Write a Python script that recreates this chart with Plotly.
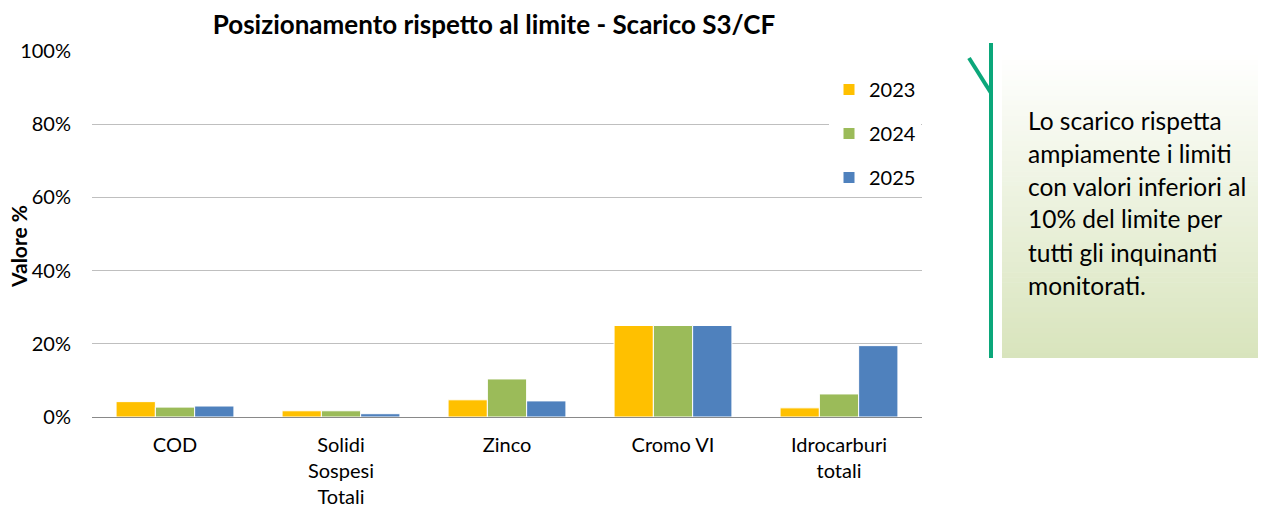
import plotly.graph_objects as go

categories = ["COD", "Solidi<br>Sospesi<br>Totali", "Zinco", "Cromo VI", "Idrocarburi<br>totali"]
years = ["2023", "2024", "2025"]
v2023 = [0.042, 0.017, 0.047, 0.25, 0.025]
v2024 = [0.027, 0.017, 0.104, 0.25, 0.063]
v2025 = [0.030, 0.009, 0.044, 0.25, 0.195]
colors = ["#FFC000", "#9BBB59", "#4F81BD"]
tick_vals = [0, 0.2, 0.4, 0.6, 0.8, 1.0]
tick_text = ["0%", "20%", "40%", "60%", "80%", "100%"]
note_lines = ["Lo scarico rispetta", "ampiamente i limiti", "con valori inferiori al",
              "10% del limite per", "tutti gli inquinanti", "monitorati."]

FONT = "Lato"
OFF = 8  # page body margin
W, H = 1266 - 2 * OFF, 517 - 2 * OFF
L, R, T, B = 92 - OFF, 922 - OFF, 51 - OFF, 417 - OFF

def px(x):
    return (x - OFF - L) / (R - L)

def py(y):
    return (B - (y - OFF)) / (B - T)

fig = go.Figure()
for i, (yr, vals) in enumerate(zip(years, [v2023, v2024, v2025])):
    fig.add_trace(go.Bar(x=categories, y=vals, name=yr, legendgroup=yr,
                         marker=dict(color=colors[i], line=dict(color="white", width=1))))

shapes = []
x0, x1, y0, y1 = 1002, 1266, 55, 358
n = 60
top = (255, 255, 255)
bot = (216, 228, 188)
for k in range(n):
    t = (k + 0.5) / n
    c = tuple(int(round(top[j] + (bot[j] - top[j]) * t)) for j in range(3))
    ya = y0 + (y1 - y0) * k / n
    yb = y0 + (y1 - y0) * (k + 1) / n + 0.6
    shapes.append(dict(type="rect", xref="paper", yref="paper",
                       x0=px(x0), x1=px(x1), y0=py(min(yb, y1)), y1=py(ya),
                       fillcolor="rgb(%d,%d,%d)" % c, line=dict(width=0), layer="below"))
green = "#0BA77A"
shapes.append(dict(type="line", xref="paper", yref="paper",
                   x0=px(991), x1=px(991), y0=py(358), y1=py(43),
                   line=dict(color=green, width=4)))
shapes.append(dict(type="line", xref="paper", yref="paper",
                   x0=px(969), x1=px(991), y0=py(58), y1=py(93),
                   line=dict(color=green, width=4)))

annotations = []
for i, line in enumerate(note_lines):
    annotations.append(dict(text=line, xref="paper", yref="paper",
                            x=px(1026), y=py(120 + i * 33), xanchor="left", yanchor="middle",
                            showarrow=False, font=dict(family=FONT, size=24.5, color="#000000")))
annotations.append(dict(text="<b>Valore %</b>", xref="paper", yref="paper",
                        x=px(19), y=py(247), xanchor="center", yanchor="middle", textangle=-90,
                        showarrow=False, borderpad=0,
                        font=dict(family=FONT, size=21, color="#000000")))

fig.update_layout(
    width=W, height=H,
    margin=dict(l=L, r=W - R, t=T, b=H - B, pad=0, autoexpand=False),
    paper_bgcolor="white", plot_bgcolor="white",
    title=dict(text="<b>Posizionamento rispetto al limite - Scarico S3/CF</b>",
               xref="container", x=(494 - OFF) / W, xanchor="center",
               y=1 - (25 - OFF) / H, yanchor="middle",
               font=dict(family=FONT, size=26, color="#000000")),
    barmode="group", bargap=0.29, bargroupgap=0.0,
    font=dict(family=FONT, size=20, color="#000000"),
    legend=dict(x=px(829), y=py(70), xanchor="left", yanchor="top",
                bgcolor="white", font=dict(family=FONT, size=20),
                tracegroupgap=15, itemwidth=30),
    xaxis=dict(showgrid=False, showline=True, linecolor="#898989", linewidth=1,
               ticks="", ticklabelstandoff=10, automargin=False,
               tickfont=dict(family=FONT, size=20), fixedrange=True),
    yaxis=dict(range=[0, 1], tickvals=tick_vals, ticktext=tick_text,
               showgrid=True, gridcolor="#BFBFBF", gridwidth=1, zeroline=False,
               showline=False, ticks="", ticklabelstandoff=20, automargin=False,
               tickfont=dict(family=FONT, size=20)),
    shapes=shapes, annotations=annotations, showlegend=True,
)
fig.write_html("out.html")
